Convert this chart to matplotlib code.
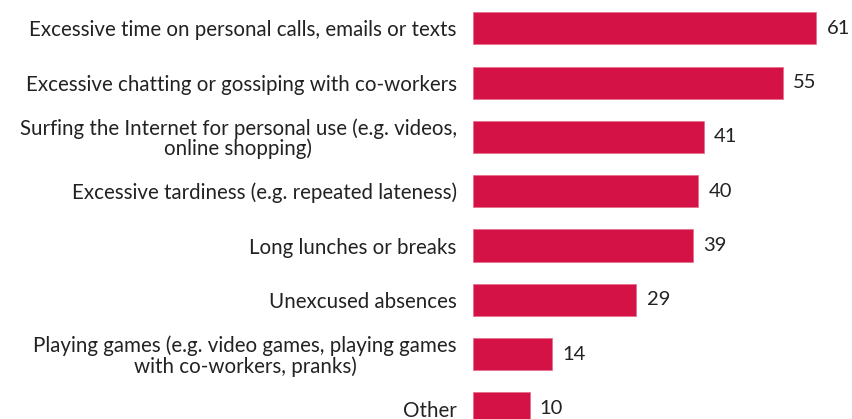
import numpy as np
import matplotlib
matplotlib.use("Agg")
import matplotlib.pyplot as plt

plt.rcParams['font.family'] = ['Lato', 'DejaVu Sans']

categories = [
    "Excessive time on personal calls, emails or texts",
    "Excessive chatting or gossiping with co-workers",
    "Surfing the Internet for personal use (e.g. videos,\nonline shopping)",
    "Excessive tardiness (e.g. repeated lateness)",
    "Long lunches or breaks",
    "Unexcused absences",
    "Playing games (e.g. video games, playing games\nwith co-workers, pranks)",
    "Other",
]
values = [61, 55, 41, 40, 39, 29, 14, 10]

bar_color = "#D41245"
text_color = "#222222"

fig = plt.figure(figsize=(8.53, 4.19), dpi=100)
ax = fig.add_axes([0.555, 0.0, 0.445, 1.0])

y = np.arange(len(values))
ax.barh(y, values, height=0.59, color=bar_color, edgecolor="#E8708F", linewidth=0.6)

for yi, v in zip(y, values):
    ax.text(v + 1.8, yi, str(v), va="center", ha="left",
            fontsize=14.5, color=text_color)

ax.set_yticks(y)
ax.set_yticklabels(categories, fontsize=14.8, color=text_color,
                   multialignment="center", linespacing=1.0)
ax.tick_params(axis="y", length=0, pad=12)
ax.set_xticks([])
ax.set_xlim(0, 67.5)
ax.set_ylim(7.193, -0.519)
for s in ax.spines.values():
    s.set_visible(False)

fig.savefig("out.png", dpi=100)
